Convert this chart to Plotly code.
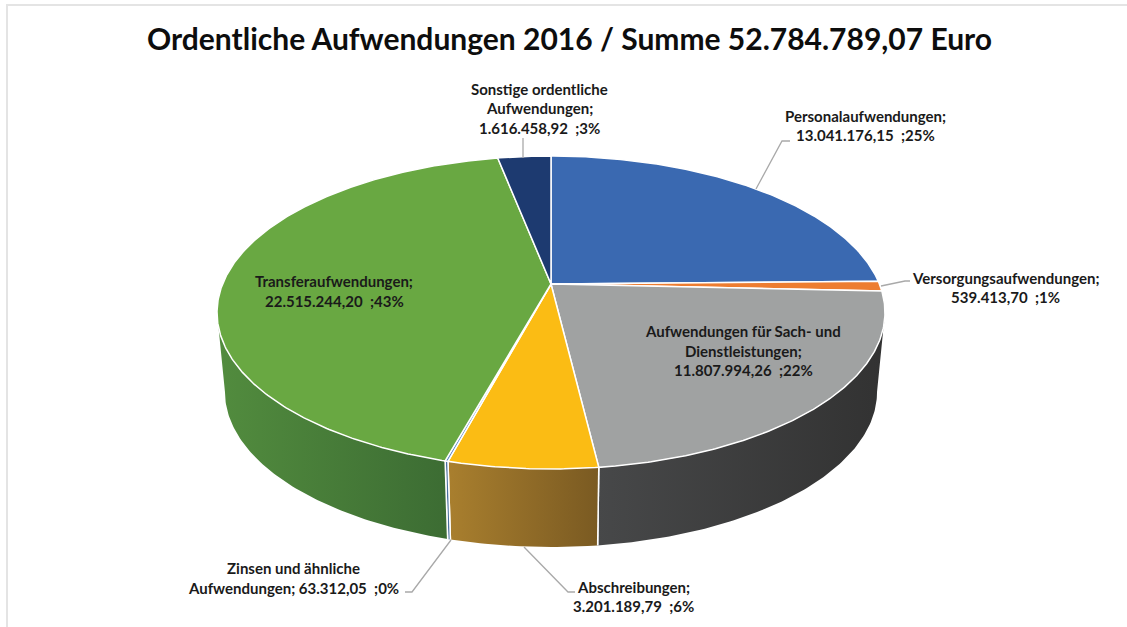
import numpy as np
import plotly.graph_objects as go

categories = ["Personalaufwendungen", "Versorgungsaufwendungen", "Aufwendungen für Sach- und Dienstleistungen",
              "Abschreibungen", "Zinsen und ähnliche Aufwendungen", "Transferaufwendungen",
              "Sonstige ordentliche Aufwendungen"]
values = [13041176.15, 539413.70, 11807994.26, 3201189.79, 63312.05, 22515244.20, 1616458.92]
top_colors = ["#3a69b1", "#ed7d31", "#a0a2a2", "#fbbc14", "#5b86c4", "#69a842", "#1d3a70"]
wall_left = ["#2c5288", "#b0601f", "#474849", "#a97f2e", "#4a6f9f", "#528c3e", "#16294f"]
wall_right = ["#2c5288", "#b0601f", "#323232", "#7a5a22", "#4a6f9f", "#3c6c33", "#16294f"]

title_text = "Ordentliche Aufwendungen 2016 / Summe 52.784.789,07 Euro"
NB = "\u00a0"
label_lines = [
    (["Personalaufwendungen;", f"13.041.176,15{NB} ;25%"], 865, [116, 135]),
    (["Versorgungsaufwendungen;", f"539.413,70{NB} ;1%"], 1005, [278, 297]),
    (["Aufwendungen für Sach- und", "Dienstleistungen;", f"11.807.994,26{NB} ;22%"], 743, [331, 351, 370]),
    (["Abschreibungen;", f"3.201.189,79{NB} ;6%"], 633, [587, 606]),
    (["Zinsen und ähnliche", f"Aufwendungen; 63.312,05{NB} ;0%"], 293, [568, 588]),
    (["Transferaufwendungen;", f"22.515.244,20{NB} ;43%"], 334, [281, 301]),
    (["Sonstige ordentliche", "Aufwendungen;", f"1.616.458,92{NB} ;3%"], 539, [89, 108, 128]),
]
leaders = [
    ([756, 782, 790], [189, 141, 141]),
    ([881, 905, 910], [286, 281, 281]),
    ([524, 568, 575], [547, 592, 592]),
    ([451, 412, 405], [540, 592, 592]),
    ([523, 523], [138, 158]),
]

# projection of the disc: a tilted circle seen in perspective
CX, K = 551.0, 0.182
TOP = dict(a=328.4, b=151.3, y0=284.0)
BOT = dict(a=320.6, b=150.0, y0=363.6)
# the wall is visible between the two silhouette angles of the perspective ellipse
SIL_R = np.pi / 2 + np.arcsin(K)
SIL_L = 3 * np.pi / 2 - np.arcsin(K)


def proj(theta, d):
    u, v = np.sin(theta), np.cos(theta)
    w = 1 + K * v
    return CX + d["a"] * u / w, d["y0"] - d["b"] * v / w


fractions = np.array(values) / sum(values)
edges = np.concatenate([[0], np.cumsum(fractions)]) * 2 * np.pi

fig = go.Figure()
WHITE = "#ffffff"

for i in range(len(values)):
    lo, hi = max(edges[i], SIL_R), min(edges[i + 1], SIL_L)
    if hi <= lo:
        continue
    n = max(8, int((hi - lo) * 80))
    th = np.linspace(lo, hi, n)
    xt, yt = proj(th, TOP)
    xb, yb = proj(th, BOT)
    xs = np.concatenate([xt, xb[::-1], xt[:1]])
    ys = np.concatenate([yt, yb[::-1], yt[:1]])
    fig.add_trace(go.Scatter(
        x=xs, y=ys, mode="lines", fill="toself",
        line=dict(color=WHITE, width=0),
        fillgradient=dict(type="horizontal",
                          colorscale=[[0, wall_left[i]], [1, wall_right[i]]]),
        hoverinfo="skip", showlegend=False))
    for e in (edges[i], edges[i + 1]):
        if SIL_R < e < SIL_L:
            xe, ye = proj(np.array([e]), TOP)
            xf, yf = proj(np.array([e]), BOT)
            fig.add_trace(go.Scatter(x=[xe[0], xf[0]], y=[ye[0], yf[0]], mode="lines",
                                     line=dict(color=WHITE, width=1.5),
                                     hoverinfo="skip", showlegend=False))

# top faces
for i in range(len(values)):
    n = max(4, int((edges[i + 1] - edges[i]) * 120))
    th = np.linspace(edges[i], edges[i + 1], n)
    xt, yt = proj(th, TOP)
    xs = np.concatenate([[CX], xt, [CX]])
    ys = np.concatenate([[TOP["y0"]], yt, [TOP["y0"]]])
    fig.add_trace(go.Scatter(
        x=xs, y=ys, mode="lines", fill="toself", fillcolor=top_colors[i],
        line=dict(color=WHITE, width=1.5), name=categories[i],
        hoverinfo="name", showlegend=False))

# leader lines
for lx, ly in leaders:
    fig.add_trace(go.Scatter(x=lx, y=ly, mode="lines", line=dict(color="#a9a9a9", width=1.3),
                             hoverinfo="skip", showlegend=False))

FONT = "Lato, Carlito, Calibri, sans-serif"
ann = [dict(x=569, y=38, xref="x", yref="y", text=f"<b>{title_text}</b>", showarrow=False,
            font=dict(family=FONT, size=30, color="#0d0d0d"))]
for lines, cx, ys in label_lines:
    for t, y in zip(lines, ys):
        ann.append(dict(x=cx, y=y, xref="x", yref="y", text=f"<b>{t}</b>", showarrow=False,
                        font=dict(family=FONT, size=15, color="#1a1a1a")))

frame = dict(type="rect", xref="x", yref="y", x0=7, y0=5, x1=1140, y1=640,
             line=dict(color="#e4e4e4", width=2), fillcolor="rgba(0,0,0,0)", layer="below")

fig.update_layout(
    width=1127, height=627, autosize=False,
    margin=dict(l=0, r=0, t=0, b=0),
    paper_bgcolor="white", plot_bgcolor="white",
    xaxis=dict(range=[0, 1127], visible=False, fixedrange=True),
    yaxis=dict(range=[627, 0], visible=False, fixedrange=True),
    annotations=ann, shapes=[frame], showlegend=False,
)
fig.write_html("out.html", config={"displayModeBar": False},
               post_script="document.body.style.margin='0';")
